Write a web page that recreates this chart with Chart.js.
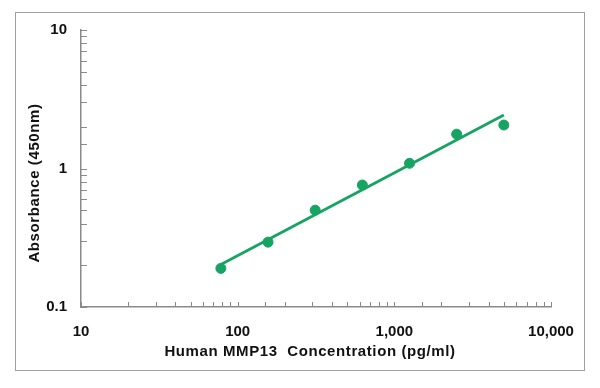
<!DOCTYPE html>
<html>
<head>
<script src="https://cdn.jsdelivr.net/npm/chart.js@4.4.1/dist/chart.umd.min.js"></script>
<style>
  body { margin: 0; background: #fff; }
  #wrap { width: 600px; height: 388px; }
</style>
</head>
<body>
<div id="wrap"><canvas id="stdCurve"></canvas></div>
<script>
// standard curve points (pg/ml vs OD 450nm)
var concentration = [78.125, 156.25, 312.5, 625, 1250, 2500, 5000];
var absorbance = [0.19, 0.294, 0.50, 0.76, 1.09, 1.77, 2.06];

// fitted line end points
var fitX = [78.125, 5000];
var fitY = [0.203, 2.43];

var xTickLabels = [10, 100, 1000, 10000];
var yTickLabels = [0.1, 1, 10];

var green = '#17a462';
var axisGray = '#8a8a8a';
var labelFont = '"Liberation Sans", Arial, sans-serif';

function toPoints(xs, ys) {
  var pts = [];
  for (var i = 0; i < xs.length; i++) pts.push({x: xs[i], y: ys[i]});
  return pts;
}

// frame, inward tick marks, axis titles
var decor = {
  id: 'decor',
  beforeDraw: function(chart) {
    var ctx = chart.ctx;
    ctx.save();
    ctx.strokeStyle = '#a0a0a0';
    ctx.lineWidth = 1;
    ctx.strokeRect(15.5, 12.5, 569, 358);
    ctx.restore();
  },
  afterDraw: function(chart) {
    var ctx = chart.ctx, xs = chart.scales.x, ys = chart.scales.y;
    var area = chart.chartArea;
    ctx.save();
    ctx.strokeStyle = axisGray;
    ctx.lineWidth = 1;
    ctx.beginPath();
    xs.ticks.forEach(function(t) {
      var px = Math.round(xs.getPixelForValue(t.value)) + 0.5;
      ctx.moveTo(px, area.bottom);
      ctx.lineTo(px, area.bottom - 5);
    });
    ys.ticks.forEach(function(t) {
      var py = Math.round(ys.getPixelForValue(t.value)) + 0.5;
      ctx.moveTo(area.left, py);
      ctx.lineTo(area.left + 6, py);
    });
    ctx.stroke();

    ctx.fillStyle = '#111';
    ctx.font = 'bold 15px ' + labelFont;
    ctx.letterSpacing = '0.6px';
    ctx.textAlign = 'center';
    ctx.textBaseline = 'middle';
    ctx.fillText('Human MMP13  Concentration (pg/ml)', 310, 352);
    ctx.translate(35, 183);
    ctx.rotate(-Math.PI / 2);
    ctx.fillText('Absorbance (450nm)', 0, 0);
    ctx.restore();
  }
};

new Chart(document.getElementById('stdCurve'), {
  type: 'scatter',
  data: {
    datasets: [
      {
        label: 'Standard',
        data: toPoints(concentration, absorbance),
        backgroundColor: green,
        borderColor: green,
        pointRadius: 5,
        pointHoverRadius: 5
      },
      {
        label: 'Fit',
        data: toPoints(fitX, fitY),
        showLine: true,
        borderColor: green,
        borderWidth: 2.8,
        pointRadius: 0,
        fill: false
      }
    ]
  },
  options: {
    responsive: true,
    maintainAspectRatio: false,
    animation: false,
    layout: { padding: { left: 0, right: 49, top: 30, bottom: 0 } },
    plugins: {
      legend: { display: false },
      tooltip: { enabled: false }
    },
    scales: {
      x: {
        type: 'logarithmic',
        min: 10,
        max: 10000,
        grid: { display: false },
        border: { display: true, color: axisGray, width: 1.5 },
        afterFit: function(scale) { scale.height = 81; },
        ticks: {
          padding: 8,
          color: '#111',
          font: { family: labelFont, size: 15, weight: 'bold' },
          autoSkip: false,
          maxRotation: 0,
          callback: function(v) {
            return xTickLabels.indexOf(v) >= 0 ? v.toLocaleString('en-US') : '';
          }
        }
      },
      y: {
        type: 'logarithmic',
        min: 0.1,
        max: 10,
        grid: { display: false },
        border: { display: true, color: axisGray, width: 1.5 },
        afterFit: function(scale) { scale.width = 81; },
        ticks: {
          padding: 6,
          color: '#111',
          font: { family: labelFont, size: 15, weight: 'bold' },
          autoSkip: false,
          callback: function(v) {
            return yTickLabels.indexOf(v) >= 0 ? String(v) : '';
          }
        }
      }
    }
  },
  plugins: [decor]
});
</script>
</body>
</html>
